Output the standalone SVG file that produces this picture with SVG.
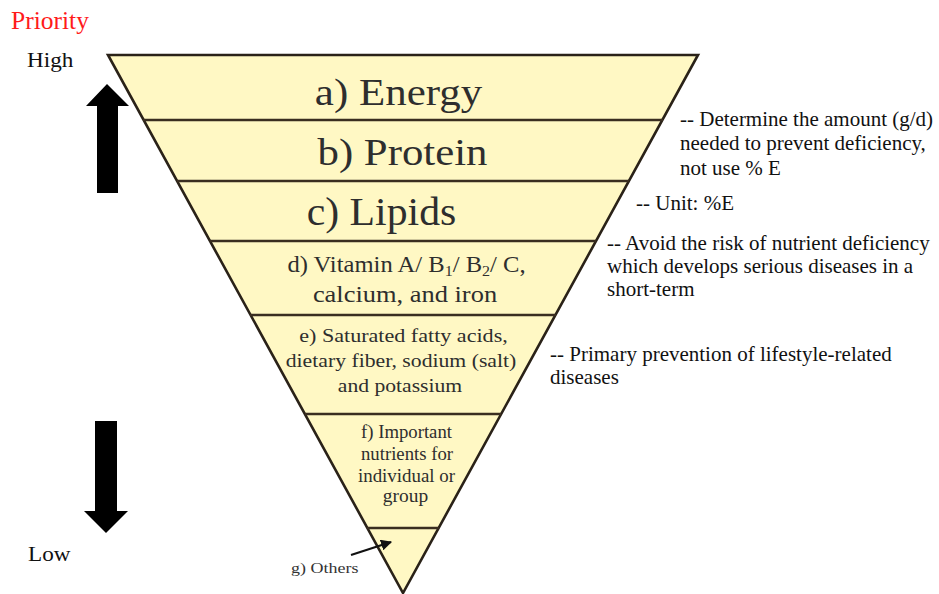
<svg xmlns="http://www.w3.org/2000/svg" width="939" height="594" viewBox="0 0 939 594">
<style>
.t{font-family:"Liberation Serif","Times New Roman",serif;fill:#111}
.in{font-family:"Liberation Serif","Times New Roman",serif;fill:#2e2e2e;text-anchor:middle}
.div{stroke:#3a2e20;stroke-width:2.6}
.note{font-family:"Liberation Serif","Times New Roman",serif;fill:#111;font-size:21px}
</style>
<defs>
<marker id="ah" viewBox="0 0 10 10" refX="9" refY="5" markerWidth="5" markerHeight="5" orient="auto"><path d="M0,0 L10,5 L0,10 z" fill="#111"/></marker>
</defs>
<rect width="939" height="594" fill="#fff"/>
<text class="t" x="11" y="29" font-size="25.5" style="fill:#ff1a1a">Priority</text>
<g transform="translate(27,67) scale(1.13,1)"><text class="t" x="0" y="0" font-size="20.5">High</text></g>
<g transform="translate(28,561) scale(1.13,1)"><text class="t" x="0" y="0" font-size="20.5">Low</text></g>
<g id="arrow-up"><polygon points="107,84 129,106 118,106 118,193 97,193 97,106 86,106" fill="#000"/></g>
<g id="arrow-down"><polygon points="95,421 117,421 117,511 128,511 106,533 84,511 95,511" fill="#000"/></g>
<g id="pyramid">
<polygon points="108,55 698,55 403,593" fill="#fff8c4" stroke="#2a2218" stroke-width="2.6" stroke-linejoin="miter"/>
</g>
<g id="connectors">
<line class="div" x1="143" y1="120" x2="663" y2="120"/>
<line class="div" x1="177" y1="181" x2="629" y2="181"/>
<line class="div" x1="210" y1="241" x2="596" y2="241"/>
<line class="div" x1="250" y1="315" x2="556" y2="315"/>
<line class="div" x1="305" y1="414" x2="501" y2="414"/>
<line class="div" x1="367" y1="528" x2="439" y2="528"/>
<line x1="351" y1="555" x2="391" y2="542" stroke="#111" stroke-width="2.2" marker-end="url(#ah)"/>
</g>
<g id="node-a" transform="translate(398.5,105) scale(1.13,1)"><text class="in" x="0" y="0" font-size="38">a) Energy</text></g>
<g id="node-b" transform="translate(402.5,165) scale(1.127,1)"><text class="in" x="0" y="0" font-size="38">b) Protein</text></g>
<g id="node-c" transform="translate(381.5,225) scale(1.07,1)"><text class="in" x="0" y="0" font-size="39">c) Lipids</text></g>
<g id="node-d">
<g transform="translate(406.5,272) scale(1.07,1)"><text class="in" x="0" y="0" font-size="23">d) Vitamin A/ B<tspan font-size="15" dy="4">1</tspan><tspan dy="-4">/ B</tspan><tspan font-size="15" dy="4">2</tspan><tspan dy="-4">/ C,</tspan></text></g>
<g transform="translate(405,302) scale(1.15,1)"><text class="in" x="0" y="0" font-size="23">calcium, and iron</text></g>
</g>
<g id="node-e">
<g transform="translate(403.5,342) scale(1.133,1)"><text class="in" x="0" y="0" font-size="19.5">e) Saturated fatty acids,</text></g>
<g transform="translate(401,367) scale(1.113,1)"><text class="in" x="0" y="0" font-size="19.5">dietary fiber, sodium (salt)</text></g>
<g transform="translate(400,392) scale(1.11,1)"><text class="in" x="0" y="0" font-size="19.5">and potassium</text></g>
</g>
<g id="node-f">
<g transform="translate(406.5,438) scale(1.04,1)"><text class="in" x="0" y="0" font-size="18">f) Important</text></g>
<g transform="translate(407,460) scale(1.04,1)"><text class="in" x="0" y="0" font-size="18">nutrients for</text></g>
<g transform="translate(406.5,482) scale(1.05,1)"><text class="in" x="0" y="0" font-size="18">individual or</text></g>
<g transform="translate(405.5,502) scale(1.08,1)"><text class="in" x="0" y="0" font-size="18">group</text></g>
</g>
<g id="node-g" transform="translate(291,573) scale(1.2,1)"><text class="t" x="0" y="0" font-size="15" style="fill:#333">g) Others</text></g>
<g id="notes">
<text class="note"><tspan x="680" y="126">-- Determine the amount (g/d)</tspan><tspan x="680" y="150">needed  to prevent deficiency,</tspan><tspan x="680" y="175">not use % E</tspan></text>
<text class="note" x="636" y="210">-- Unit: %E</text>
<text class="note"><tspan x="607" y="250">-- Avoid the risk of nutrient deficiency</tspan><tspan x="607" y="273">which develops serious diseases in a</tspan><tspan x="607" y="296">short-term</tspan></text>
<text class="note"><tspan x="550" y="361">-- Primary prevention of lifestyle-related</tspan><tspan x="550" y="384">diseases</tspan></text>
</g>
</svg>
